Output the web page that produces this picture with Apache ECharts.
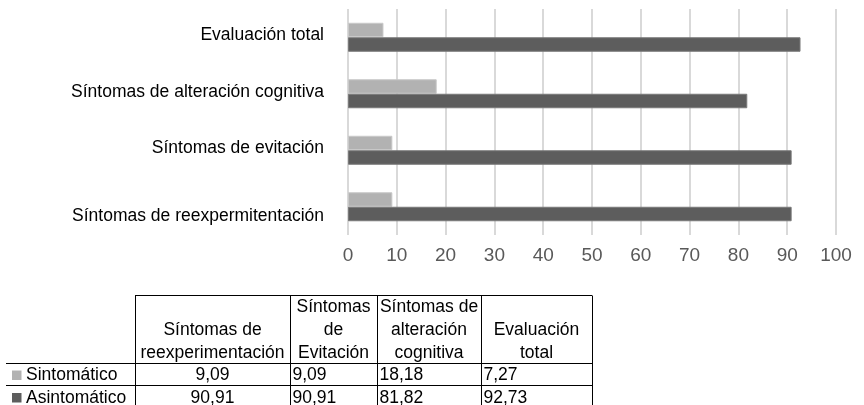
<!DOCTYPE html>
<html>
<head>
<meta charset="utf-8">
<script src="https://cdn.jsdelivr.net/npm/echarts@6/dist/echarts.min.js"></script>
<style>
html,body{margin:0;padding:0;background:#fff;}
#chart{width:864px;height:405px;}
</style>
</head>
<body>
<div id="chart"></div>
<script>
// ---- data ----
var categories = ['Síntomas de reexpermitentación', 'Síntomas de evitación', 'Síntomas de alteración cognitiva', 'Evaluación total'];
var seriesNames = ['Sintomático', 'Asintomático'];
var sintomatico = [9.09, 9.09, 18.18, 7.27];
var asintomatico = [90.91, 90.91, 81.82, 92.73];
var xTicks = [0, 10, 20, 30, 40, 50, 60, 70, 80, 90, 100];
var tableHeaders = ['Síntomas de\nreexperimentación', 'Síntomas\nde\nEvitación', 'Síntomas de\nalteración\ncognitiva', 'Evaluación\ntotal'];

var colors = ['#b2b2b2', '#5d5d5d'];
var FONT = '"Liberation Sans", Arial, sans-serif';
var FS = 17.5;

// ---- table (drawn with graphic elements) ----
var colX = [135, 290, 377, 481, 592];
var yTop = 295.5, yHead = 363.5, yRow = 385.5, yEnd = 410;
var graphics = [];
function line(x1, y1, x2, y2) {
  graphics.push({type: 'line', shape: {x1: x1, y1: y1, x2: x2, y2: y2}, style: {stroke: '#000', lineWidth: 1}, silent: true});
}
line(colX[0], yTop, colX[4], yTop);
line(6, yHead, colX[4], yHead);
line(6, yRow, colX[4], yRow);
colX.forEach(function (x) { line(x + 0.5, yTop, x + 0.5, yEnd); });

function fmt(v) { return v.toFixed(2).replace('.', ','); }
tableHeaders.forEach(function (h, i) {
  graphics.push({type: 'text', x: (colX[i] + colX[i + 1]) / 2, y: 364.5,
    style: {text: h, fill: '#000', font: FS + 'px ' + FONT, textAlign: 'center', textVerticalAlign: 'bottom', lineHeight: 23}, silent: true});
});
var rows = [sintomatico, asintomatico];
var rowY = [375.5, 398];
rows.forEach(function (arr, r) {
  graphics.push({type: 'rect', shape: {x: 12, y: rowY[r] - 5, width: 9.5, height: 9.5}, style: {fill: colors[r]}, silent: true});
  graphics.push({type: 'text', x: 26, y: rowY[r], style: {text: seriesNames[r], fill: '#000', font: FS + 'px ' + FONT, textAlign: 'left', textVerticalAlign: 'middle'}, silent: true});
  arr.forEach(function (v, i) {
    var centered = (i === 0);
    graphics.push({type: 'text', x: centered ? (colX[0] + colX[1]) / 2 : colX[i] + 2.5, y: rowY[r],
      style: {text: fmt(v), fill: '#000', font: FS + 'px ' + FONT, textAlign: centered ? 'center' : 'left', textVerticalAlign: 'middle'}, silent: true});
  });
});

var chart = echarts.init(document.getElementById('chart'));
chart.setOption({
  animation: false,
  backgroundColor: '#fff',
  textStyle: {fontFamily: FONT},
  grid: {left: 348, right: 28, top: 9, bottom: 170, containLabel: false},
  xAxis: {
    type: 'value', min: xTicks[0], max: xTicks[xTicks.length - 1], interval: 10,
    axisLine: {show: false}, axisTick: {show: false},
    splitLine: {show: true, lineStyle: {color: '#d9d9d9', width: 2}},
    axisLabel: {color: '#595959', fontSize: 19, margin: 11, fontFamily: FONT}
  },
  yAxis: {
    type: 'category', data: categories,
    axisLine: {show: false}, axisTick: {show: false},
    axisLabel: {
      color: '#000', fontSize: FS, margin: 24, fontFamily: FONT,
      formatter: function (v, idx) { return idx === 0 ? '{low|' + v + '}' : '{up|' + v + '}'; },
      rich: {
        low: {fontSize: FS, color: '#000', fontFamily: FONT, padding: [18, 0, 0, 0]},
        up: {fontSize: FS, color: '#000', fontFamily: FONT, padding: [0, 0, 4, 0]}
      }
    }
  },
  series: [
    {name: seriesNames[0], type: 'bar', data: sintomatico, barWidth: 14.5, barGap: '0%',
      itemStyle: {color: colors[0], borderColor: '#c9c9c9', borderWidth: 1}},
    {name: seriesNames[1], type: 'bar', data: asintomatico, barWidth: 14.5, barGap: '0%',
      itemStyle: {color: colors[1], borderColor: '#7a7a7a', borderWidth: 1}}
  ],
  graphic: graphics
});
</script>
</body>
</html>
